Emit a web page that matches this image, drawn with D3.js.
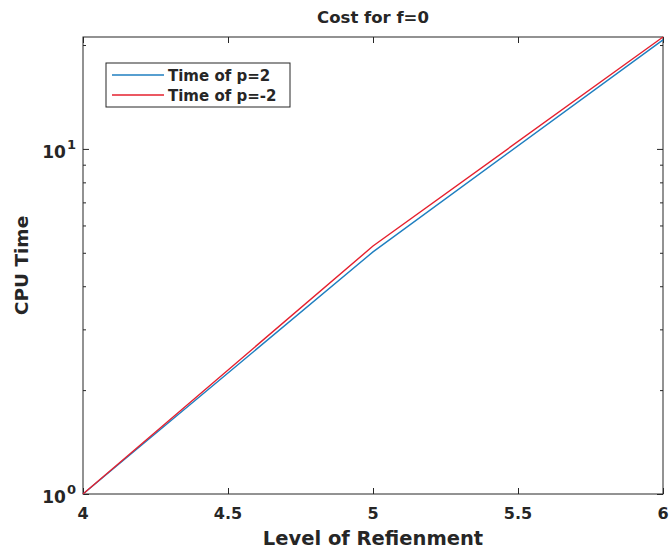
<!DOCTYPE html>
<html>
<head>
<meta charset="utf-8">
<script src="https://cdn.jsdelivr.net/npm/d3@7"></script>
<style>
  html, body { margin: 0; padding: 0; background: #fff; }
  svg { display: block; }
  text { font-family: "DejaVu Sans", sans-serif; font-weight: bold; fill: #262626; }
</style>
</head>
<body>
<svg id="chart" width="670" height="552"></svg>
<script>
// Refinement levels and measured CPU times
const levels = [4, 5, 6];
const timeP2 = [1, 5.03, 20.7];
const timePm2 = [1, 5.23, 21.1];
const seriesNames = ["Time of p=2", "Time of p=-2"];
const seriesColors = ["#1f7fc0", "#e5202e"];
const xTicks = [4, 4.5, 5, 5.5, 6];
const yMajor = [1, 10];

const svg = d3.select("#chart");
const m = { left: 83, right: 7, top: 37, bottom: 58 };
const W = 670, H = 552;
const x = d3.scaleLinear().domain([4, 6]).range([m.left, W - m.right]);
const y = d3.scaleLog().domain([1, d3.max(timePm2)]).range([H - m.bottom, m.top]);

const axisColor = "#262626";
const g = svg.append("g");

// minor log ticks 2..9 within range
const yMinor = [];
for (let d = 1; d <= 10; d *= 10) for (let k = 2; k <= 9; k++) { const v = d * k; if (v > 1 && v < y.domain()[1] && v !== 10) yMinor.push(v); }

// axes with inward ticks on all sides
const bottomAxis = d3.axisBottom(x).tickValues(xTicks).tickSize(-6).tickFormat(() => "");
const topAxis = d3.axisTop(x).tickValues(xTicks).tickSize(-6).tickFormat(() => "");
g.append("g").attr("transform", `translate(0,${y.range()[0]})`).call(bottomAxis);
g.append("g").attr("transform", `translate(0,${y.range()[1]})`).call(topAxis);
const leftMaj = d3.axisLeft(y).tickValues(yMajor).tickSize(-6).tickFormat(() => "");
const rightMaj = d3.axisRight(y).tickValues(yMajor).tickSize(-6).tickFormat(() => "");
const leftMin = d3.axisLeft(y).tickValues(yMinor).tickSize(-3).tickFormat(() => "");
const rightMin = d3.axisRight(y).tickValues(yMinor).tickSize(-3).tickFormat(() => "");
g.append("g").attr("transform", `translate(${x.range()[0]},0)`).call(leftMaj);
g.append("g").attr("transform", `translate(${x.range()[1]},0)`).call(rightMaj);
g.append("g").attr("transform", `translate(${x.range()[0]},0)`).call(leftMin);
g.append("g").attr("transform", `translate(${x.range()[1]},0)`).call(rightMin);
g.selectAll(".domain").attr("stroke", "none");
g.selectAll(".tick line").attr("stroke", axisColor).attr("stroke-width", 1);

// box
svg.append("rect")
  .attr("x", x.range()[0]).attr("y", y.range()[1])
  .attr("width", x.range()[1] - x.range()[0])
  .attr("height", y.range()[0] - y.range()[1])
  .attr("fill", "none").attr("stroke", axisColor).attr("stroke-width", 1);

// x tick labels
svg.append("g").selectAll("text").data(xTicks).join("text")
  .attr("x", d => x(d)).attr("y", y.range()[0] + 25)
  .attr("text-anchor", "middle").attr("font-size", 16)
  .text(d => d);

// y tick labels as 10^n
const yl = svg.append("g").selectAll("text").data(yMajor).join("text")
  .attr("x", x.range()[0] - 7).attr("y", d => y(d) + 9)
  .attr("text-anchor", "end").attr("font-size", 17);
yl.append("tspan").text("10");
yl.append("tspan").attr("font-size", 13).attr("dy", -9).attr("dx", 1).text(d => Math.round(Math.log10(d)));

// lines
const line = d3.line().x((d, i) => x(levels[i])).y(d => y(d));
[timeP2, timePm2].forEach((s, i) => {
  svg.append("path").datum(s).attr("d", line)
    .attr("fill", "none").attr("stroke", seriesColors[i]).attr("stroke-width", 1.4);
});

// titles
svg.append("text").attr("x", (x.range()[0] + x.range()[1]) / 2).attr("y", 23)
  .attr("text-anchor", "middle").attr("font-size", 16.5).text("Cost for f=0");
svg.append("text").attr("x", (x.range()[0] + x.range()[1]) / 2).attr("y", 545)
  .attr("text-anchor", "middle").attr("font-size", 19.5).text("Level of Refienment");
svg.append("text").attr("transform", `translate(28,${(y.range()[0] + y.range()[1]) / 2}) rotate(-90)`)
  .attr("text-anchor", "middle").attr("font-size", 18.5).text("CPU Time");

// legend
const lg = svg.append("g");
lg.append("rect").attr("x", 106).attr("y", 63).attr("width", 184).attr("height", 44)
  .attr("fill", "#fff").attr("stroke", axisColor).attr("stroke-width", 1);
seriesNames.forEach((n, i) => {
  const ly = 75 + i * 20;
  lg.append("line").attr("x1", 112).attr("x2", 164).attr("y1", ly).attr("y2", ly)
    .attr("stroke", seriesColors[i]).attr("stroke-width", 1.4);
  lg.append("text").attr("x", 168).attr("y", ly + 5.5).attr("font-size", 15).text(n);
});
</script>
</body>
</html>
